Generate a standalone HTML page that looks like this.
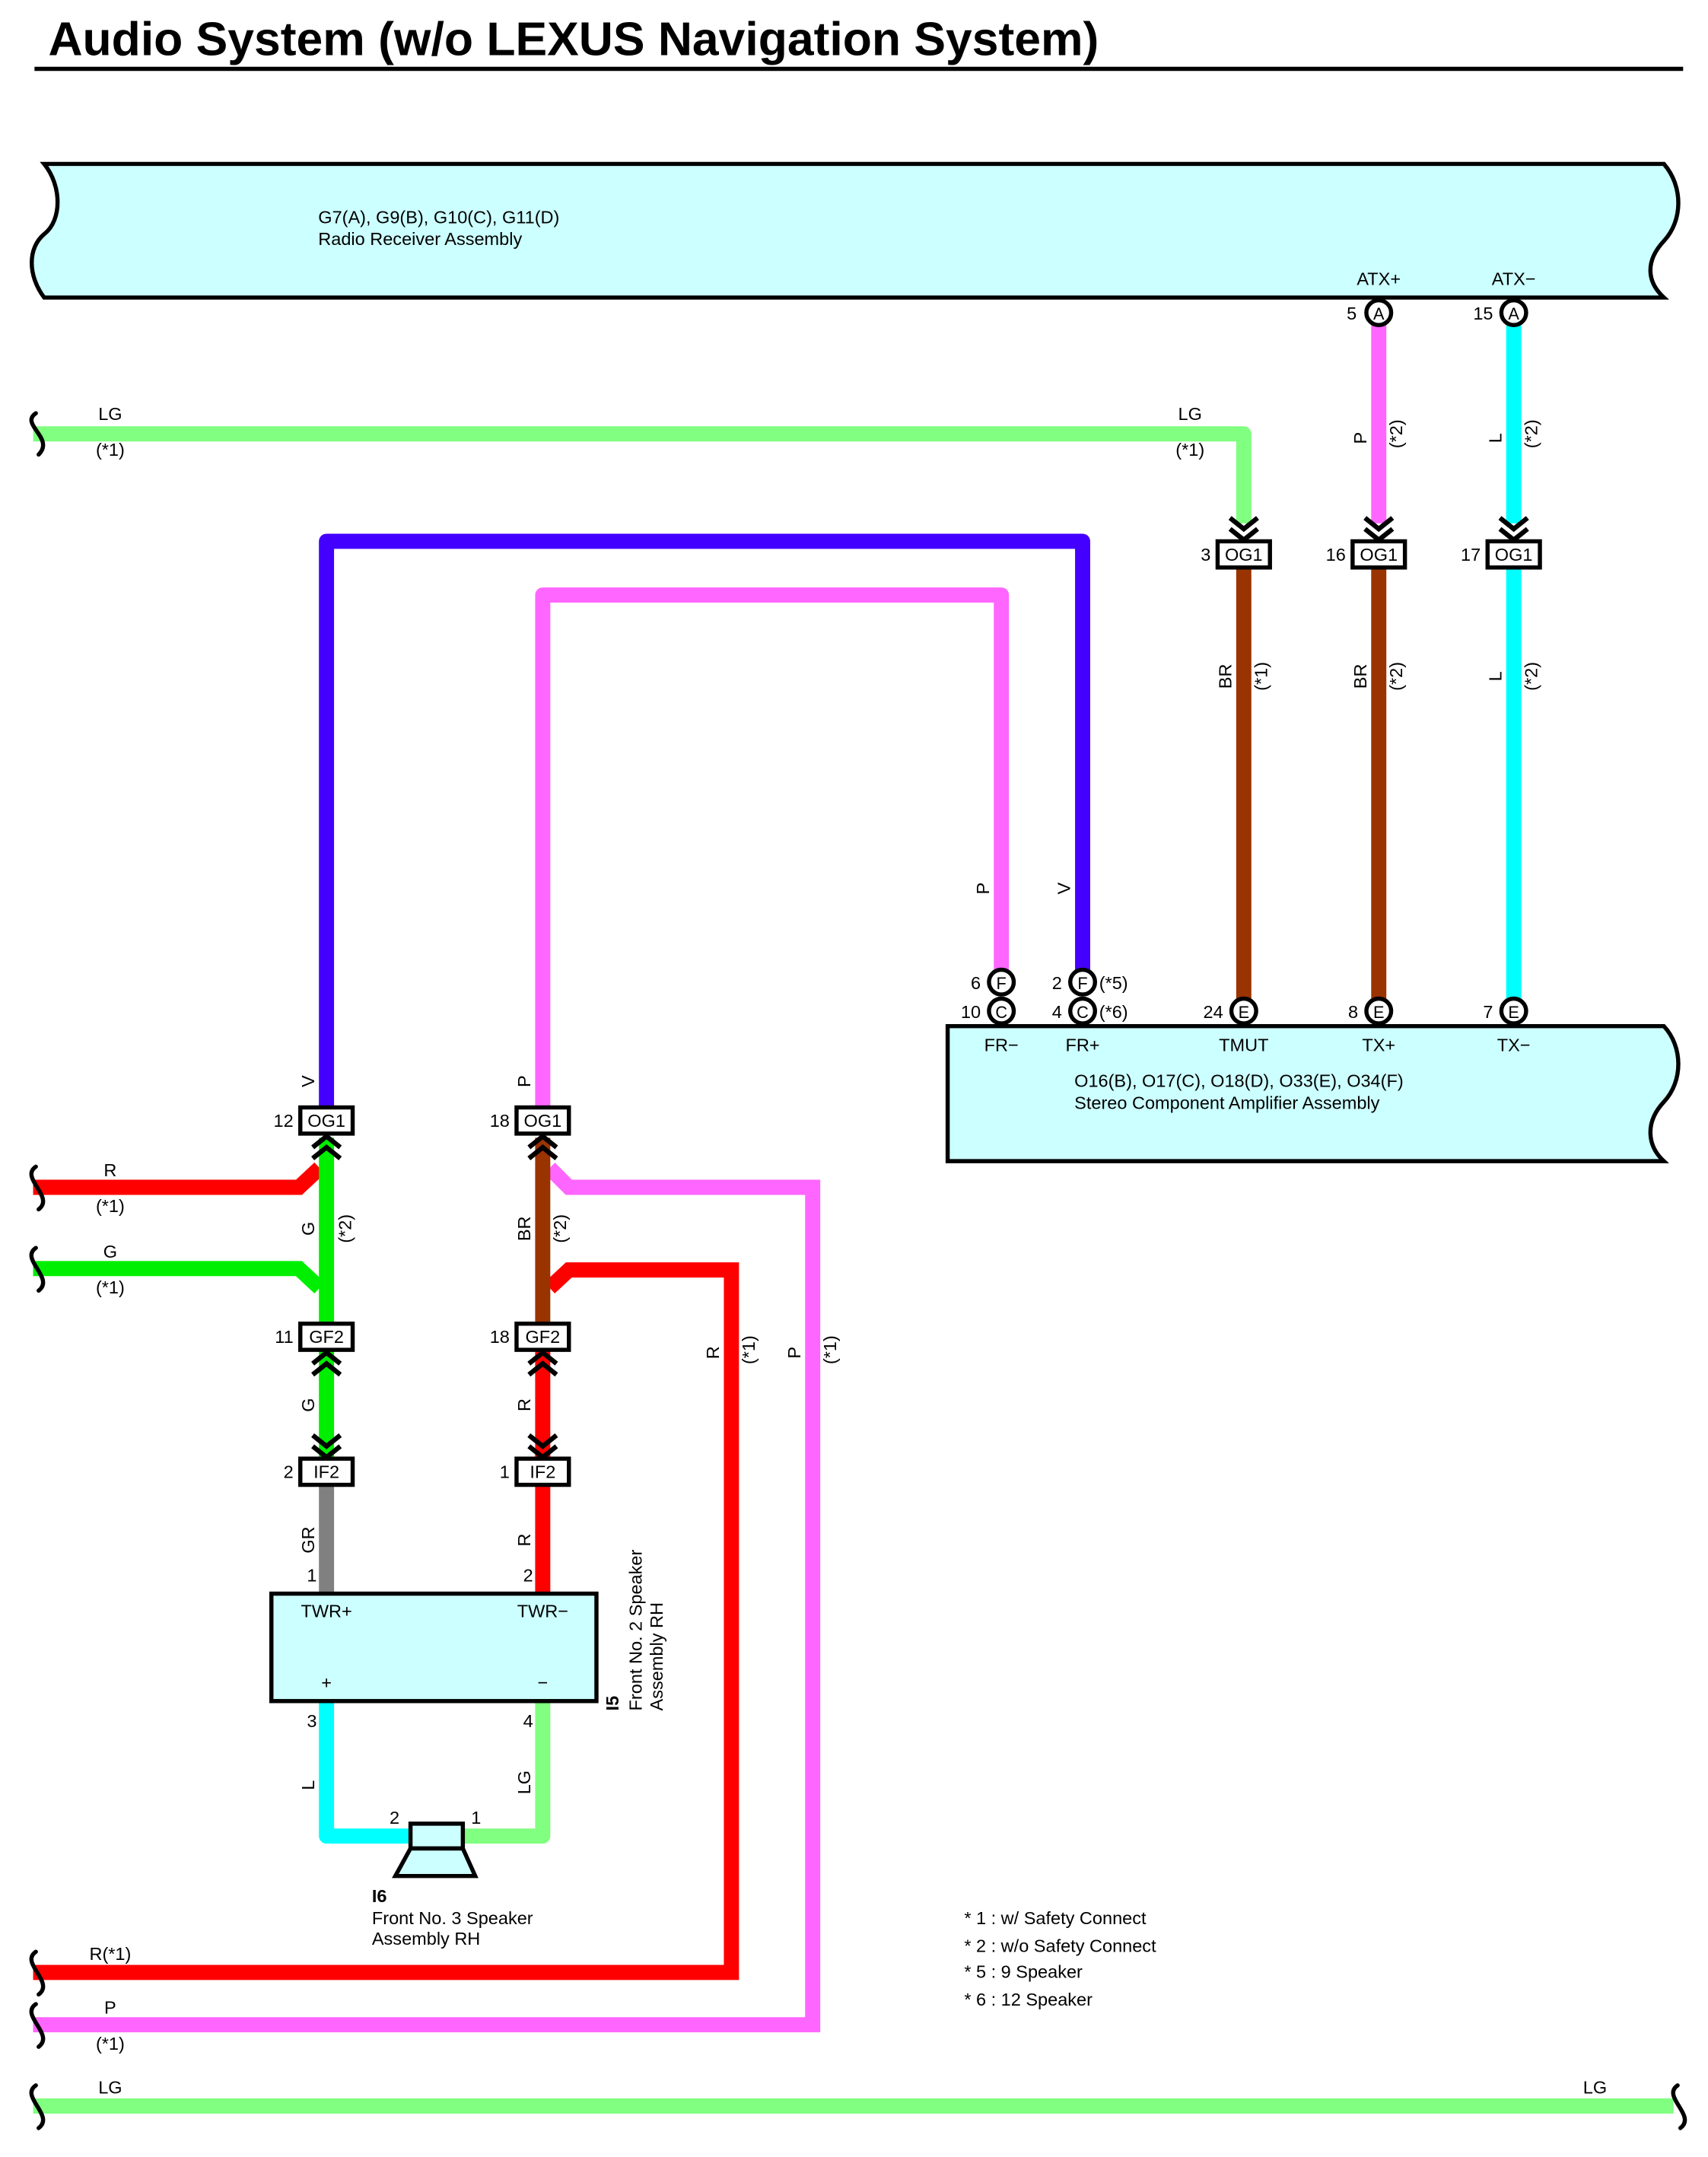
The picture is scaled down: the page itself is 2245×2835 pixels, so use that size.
<!DOCTYPE html>
<html><head><meta charset="utf-8"><style>
html,body{margin:0;padding:0;background:#fff;}
svg{display:block;}
text{font-family:"Liberation Sans Narrow","Liberation Sans",sans-serif;font-size:13px;fill:#000;}
.b{font-weight:bold;}
</style></head><body>
<svg width="2245" height="2835" viewBox="0 0 1240 1566" xmlns="http://www.w3.org/2000/svg">
<defs>
<g id="dn"><polyline points="-10,-16 0,-8 10,-16" fill="none" stroke="#000" stroke-width="3.5"/><polyline points="-10,-8 0,0 10,-8" fill="none" stroke="#000" stroke-width="3.5"/></g>
<g id="up"><polyline points="-10,16 0,8 10,16" fill="none" stroke="#000" stroke-width="3.5"/><polyline points="-10,8 0,0 10,8" fill="none" stroke="#000" stroke-width="3.5"/></g>
</defs>
<text x="35" y="40" class="b" style="font-family:'Liberation Sans',sans-serif;font-size:34.5px">Audio System (w/o LEXUS Navigation System)</text>
<line x1="25" y1="50" x2="1222" y2="50" stroke="#000" stroke-width="3"/>

<path d="M32,119 L1208,119 C1222,135 1222,160 1208,175 C1194,190 1196,205 1208,216 L32,216 C20,200 20,180 32,170 C45,160 45,135 32,119 Z" fill="#ccffff" stroke="#000" stroke-width="3"/>
<text x="231" y="162">G7(A), G9(B), G10(C), G11(D)</text>
<text x="231" y="178">Radio Receiver Assembly</text>
<text x="1001" y="207" text-anchor="middle">ATX+</text>
<text x="1099" y="207" text-anchor="middle">ATX−</text>

<g fill="none" stroke-linejoin="round">
<polyline points="24,315 903,315 903,380" stroke="#80ff80" stroke-width="11"/>
<line x1="1001" y1="236" x2="1001" y2="380" stroke="#ff66ff" stroke-width="11"/>
<line x1="1099" y1="236" x2="1099" y2="380" stroke="#00ffff" stroke-width="11"/>
<line x1="903" y1="412" x2="903" y2="725" stroke="#993300" stroke-width="11"/>
<line x1="1001" y1="412" x2="1001" y2="725" stroke="#993300" stroke-width="11"/>
<line x1="1099" y1="412" x2="1099" y2="725" stroke="#00ffff" stroke-width="11"/>
<polyline points="237,803 237,393 786,393 786,705" stroke="#4400ff" stroke-width="11"/>
<polyline points="394,803 394,432 727,432 727,705" stroke="#ff66ff" stroke-width="11"/>
<polyline points="24,862 217,862 232,848" stroke="#ff0000" stroke-width="11" stroke-linejoin="miter"/>
<polyline points="24,921 217,921 232,935" stroke="#00ee00" stroke-width="11" stroke-linejoin="miter"/>
<line x1="237" y1="826" x2="237" y2="960" stroke="#00ee00" stroke-width="11"/>
<line x1="237" y1="980" x2="237" y2="1058" stroke="#00ee00" stroke-width="11"/>
<line x1="237" y1="1078" x2="237" y2="1157" stroke="#808080" stroke-width="11"/>
<polyline points="399,848 413,862 590,862 590,1470 24,1470" stroke="#ff66ff" stroke-width="11" stroke-linejoin="miter"/>
<polyline points="399,935 413,922 531,922 531,1432 24,1432" stroke="#ff0000" stroke-width="11" stroke-linejoin="miter"/>
<line x1="394" y1="826" x2="394" y2="960" stroke="#993300" stroke-width="11"/>
<line x1="394" y1="980" x2="394" y2="1058" stroke="#ff0000" stroke-width="11"/>
<line x1="394" y1="1078" x2="394" y2="1157" stroke="#ff0000" stroke-width="11"/>
<polyline points="237,1235 237,1333 300,1333" stroke="#00ffff" stroke-width="11"/>
<polyline points="394,1235 394,1333 334,1333" stroke="#80ff80" stroke-width="11"/>
<line x1="24" y1="1529" x2="1215" y2="1529" stroke="#80ff80" stroke-width="11"/>
</g>

<g fill="none" stroke="#000" stroke-width="3" stroke-linecap="round">
<path d="M26,300 C14,308 40,318 28,330"/>
<path d="M26,847 C14,855 40,869 28,878"/>
<path d="M26,906 C14,914 40,928 28,937"/>
<path d="M26,1417 C14,1425 40,1439 28,1448"/>
<path d="M26,1455 C14,1463 40,1477 28,1486"/>
<path d="M26,1514 C14,1522 40,1536 28,1545"/>
<path d="M1218,1514 C1206,1522 1232,1536 1220,1545"/>
</g>

<circle cx="1001" cy="227" r="9" fill="#fff" stroke="#000" stroke-width="3"/>
<circle cx="1099" cy="227" r="9" fill="#fff" stroke="#000" stroke-width="3"/>
<text x="1001" y="232" text-anchor="middle" style="font-size:12px">A</text>
<text x="1099" y="232" text-anchor="middle" style="font-size:12px">A</text>
<text x="985" y="232" text-anchor="end">5</text>
<text x="1084" y="232" text-anchor="end">15</text>

<text x="80" y="305" text-anchor="middle">LG</text>
<text x="80" y="331" text-anchor="middle">(*1)</text>
<text x="864" y="305" text-anchor="middle">LG</text>
<text x="864" y="331" text-anchor="middle">(*1)</text>

<use href="#dn" x="903" y="392"/><use href="#dn" x="1001" y="392"/><use href="#dn" x="1099" y="392"/>
<use href="#up" x="237" y="825"/><use href="#up" x="394" y="825"/>
<use href="#up" x="237" y="982"/><use href="#up" x="394" y="982"/>
<use href="#dn" x="237" y="1058"/><use href="#dn" x="394" y="1058"/>

<g fill="#fff" stroke="#000" stroke-width="3">
<rect x="884" y="393" width="38" height="19"/><rect x="982" y="393" width="38" height="19"/><rect x="1080" y="393" width="38" height="19"/>
<rect x="218" y="804" width="38" height="19"/><rect x="375" y="804" width="38" height="19"/>
<rect x="218" y="961" width="38" height="19"/><rect x="375" y="961" width="38" height="19"/>
<rect x="218" y="1059" width="38" height="19"/><rect x="375" y="1059" width="38" height="19"/>
</g>
<g text-anchor="middle">
<text x="903" y="407">OG1</text><text x="1001" y="407">OG1</text><text x="1099" y="407">OG1</text>
<text x="237" y="818">OG1</text><text x="394" y="818">OG1</text>
<text x="237" y="975">GF2</text><text x="394" y="975">GF2</text>
<text x="237" y="1073">IF2</text><text x="394" y="1073">IF2</text>
</g>
<g text-anchor="end">
<text x="879" y="407">3</text><text x="977" y="407">16</text><text x="1075" y="407">17</text>
<text x="213" y="818">12</text><text x="370" y="818">18</text>
<text x="213" y="975">11</text><text x="370" y="975">18</text>
<text x="213" y="1073">2</text><text x="370" y="1073">1</text>
</g>

<g>
<text transform="translate(992,318) rotate(-90)" text-anchor="middle">P</text>
<text transform="translate(1018,315) rotate(-90)" text-anchor="middle">(*2)</text>
<text transform="translate(1090,318) rotate(-90)" text-anchor="middle">L</text>
<text transform="translate(1116,315) rotate(-90)" text-anchor="middle">(*2)</text>
<text transform="translate(894,491) rotate(-90)" text-anchor="middle">BR</text>
<text transform="translate(920,491) rotate(-90)" text-anchor="middle">(*1)</text>
<text transform="translate(992,491) rotate(-90)" text-anchor="middle">BR</text>
<text transform="translate(1018,491) rotate(-90)" text-anchor="middle">(*2)</text>
<text transform="translate(1090,491) rotate(-90)" text-anchor="middle">L</text>
<text transform="translate(1116,491) rotate(-90)" text-anchor="middle">(*2)</text>
<text transform="translate(718,645) rotate(-90)" text-anchor="middle">P</text>
<text transform="translate(777,645) rotate(-90)" text-anchor="middle">V</text>
<text transform="translate(228,785) rotate(-90)" text-anchor="middle">V</text>
<text transform="translate(385,785) rotate(-90)" text-anchor="middle">P</text>
<text transform="translate(228,892) rotate(-90)" text-anchor="middle">G</text>
<text transform="translate(255,892) rotate(-90)" text-anchor="middle">(*2)</text>
<text transform="translate(385,892) rotate(-90)" text-anchor="middle">BR</text>
<text transform="translate(411,892) rotate(-90)" text-anchor="middle">(*2)</text>
<text transform="translate(228,1020) rotate(-90)" text-anchor="middle">G</text>
<text transform="translate(385,1020) rotate(-90)" text-anchor="middle">R</text>
<text transform="translate(228,1118) rotate(-90)" text-anchor="middle">GR</text>
<text transform="translate(385,1118) rotate(-90)" text-anchor="middle">R</text>
<text transform="translate(522,982) rotate(-90)" text-anchor="middle">R</text>
<text transform="translate(548,980) rotate(-90)" text-anchor="middle">(*1)</text>
<text transform="translate(581,982) rotate(-90)" text-anchor="middle">P</text>
<text transform="translate(607,980) rotate(-90)" text-anchor="middle">(*1)</text>
<text transform="translate(228,1296) rotate(-90)" text-anchor="middle">L</text>
<text transform="translate(385,1294) rotate(-90)" text-anchor="middle">LG</text>
</g>

<path d="M688,745 L1208,745 C1222,760 1222,785 1208,800 C1194,815 1196,832 1208,843 L688,843 Z" fill="#ccffff" stroke="#000" stroke-width="3"/>
<g fill="#fff" stroke="#000" stroke-width="3">
<circle cx="727" cy="713" r="9"/><circle cx="727" cy="734" r="9"/>
<circle cx="786" cy="713" r="9"/><circle cx="786" cy="734" r="9"/>
<circle cx="903" cy="734" r="9"/><circle cx="1001" cy="734" r="9"/><circle cx="1099" cy="734" r="9"/>
</g>
<g text-anchor="middle">
<text x="727" y="718" style="font-size:12px">F</text><text x="727" y="739" style="font-size:12px">C</text>
<text x="786" y="718" style="font-size:12px">F</text><text x="786" y="739" style="font-size:12px">C</text>
<text x="903" y="739" style="font-size:12px">E</text><text x="1001" y="739" style="font-size:12px">E</text><text x="1099" y="739" style="font-size:12px">E</text>
</g>
<g text-anchor="end">
<text x="712" y="718">6</text><text x="712" y="739">10</text>
<text x="771" y="718">2</text><text x="771" y="739">4</text>
<text x="888" y="739">24</text><text x="986" y="739">8</text><text x="1084" y="739">7</text>
</g>
<text x="798" y="718">(*5)</text><text x="798" y="739">(*6)</text>
<g text-anchor="middle">
<text x="727" y="763">FR−</text><text x="786" y="763">FR+</text><text x="903" y="763">TMUT</text>
<text x="1001" y="763">TX+</text><text x="1099" y="763">TX−</text>
</g>
<text x="780" y="789">O16(B), O17(C), O18(D), O33(E), O34(F)</text>
<text x="780" y="805">Stereo Component Amplifier Assembly</text>

<rect x="197" y="1157" width="236" height="78" fill="#ccffff" stroke="#000" stroke-width="3"/>
<text x="237" y="1174" text-anchor="middle">TWR+</text>
<text x="394" y="1174" text-anchor="middle">TWR−</text>
<text x="237" y="1226" text-anchor="middle">+</text>
<text x="394" y="1226" text-anchor="middle">−</text>
<text x="230" y="1148" text-anchor="end">1</text>
<text x="387" y="1148" text-anchor="end">2</text>
<text x="230" y="1254" text-anchor="end">3</text>
<text x="387" y="1254" text-anchor="end">4</text>
<text transform="translate(449,1242) rotate(-90)" class="b">I5</text>
<text transform="translate(466,1242) rotate(-90)">Front No.  2 Speaker</text>
<text transform="translate(481,1242) rotate(-90)">Assembly RH</text>

<rect x="298" y="1324" width="38" height="18" fill="#ccffff" stroke="#000" stroke-width="3"/>
<polygon points="298,1342 336,1342 345,1362 287,1362" fill="#ccffff" stroke="#000" stroke-width="3"/>
<text x="290" y="1324" text-anchor="end">2</text>
<text x="342" y="1324">1</text>
<text x="270" y="1381" class="b">I6</text>
<text x="270" y="1397">Front No.  3 Speaker</text>
<text x="270" y="1412">Assembly RH</text>

<text x="80" y="854" text-anchor="middle">R</text>
<text x="80" y="880" text-anchor="middle">(*1)</text>
<text x="80" y="913" text-anchor="middle">G</text>
<text x="80" y="939" text-anchor="middle">(*1)</text>
<text x="80" y="1423" text-anchor="middle">R(*1)</text>
<text x="80" y="1462" text-anchor="middle">P</text>
<text x="80" y="1488" text-anchor="middle">(*1)</text>
<text x="80" y="1520" text-anchor="middle">LG</text>
<text x="1158" y="1520" text-anchor="middle">LG</text>

<text x="700" y="1397">* 1 : w/ Safety Connect</text>
<text x="700" y="1417">* 2 : w/o Safety Connect</text>
<text x="700" y="1436">* 5 : 9 Speaker</text>
<text x="700" y="1456">* 6 : 12 Speaker</text>
</svg>
</body></html>
